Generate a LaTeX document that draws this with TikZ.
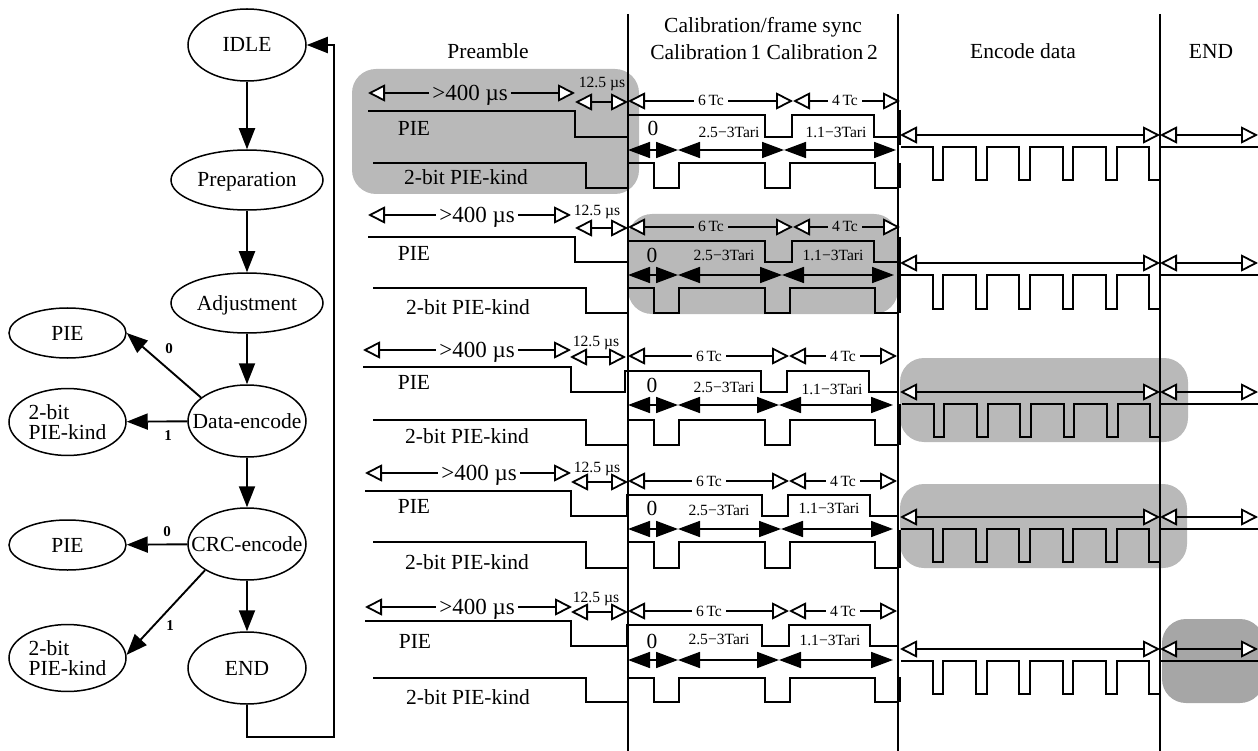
\documentclass[tikz,border=0pt]{standalone}
\usepackage{fontspec}
\setmainfont{Liberation Serif}
\usetikzlibrary{arrows.meta,shapes.geometric}
\tikzset{
  wave/.style={draw=black,line width=1.9pt,line join=miter},
  vline/.style={draw=black,line width=2pt},
  shade/.style={fill=boxgray,rounded corners=24pt},
  state/.style={draw=black,line width=1.5pt,ellipse,inner sep=0pt,align=center,font=\big},
  capstate/.style={state,text height=14pt,text depth=0pt},
  bigstate/.style={capstate,minimum width=118pt,minimum height=72pt},
  midstate/.style={capstate,minimum width=152pt,minimum height=60pt},
  leafstate/.style={state,minimum width=117pt,minimum height=50pt},
  piestate/.style={capstate,minimum width=117pt,minimum height=50pt},
  flow/.style={draw=black,line width=1.9pt,-{Triangle[length=21pt,width=16pt]}},
  lab/.style={font=\big,inner sep=0pt,text height=14pt,text depth=0pt},
  slab/.style={font=\small,inner sep=0pt,text height=10pt,text depth=0pt},
  slabgap/.style={slab,inner xsep=4pt},
  wlab/.style={font=\wide,inner sep=0pt,inner xsep=3pt,text height=15pt,text depth=0pt},
  blab/.style={font=\bfseries\fontsize{15}{17}\selectfont,inner sep=0pt},
  ohead/.tip={Triangle[open,fill=white,length=17pt,width=17pt,line width=1.8pt]},
  fhead/.tip={Triangle[length=22pt,width=16pt]},
  oline/.style={draw=black,line width=1.7pt},
  olinel/.style={oline,{ohead}-},
  oliner/.style={oline,-{ohead}},
  olineb/.style={oline,{ohead}-{ohead}},
  fline/.style={draw=black,line width=1.7pt,{fhead}-{fhead}},
}
\definecolor{boxgray}{HTML}{B9B9B9}
\definecolor{boxdark}{HTML}{A6A6A6}
\renewcommand\big{\fontsize{21.5}{19}\selectfont}
\renewcommand\small{\fontsize{15.6}{18}\selectfont}
\newcommand\wide{\fontsize{23}{25}\selectfont}
\newcommand\kindtext{\begin{tabular}{@{}l@{}}\rule{0pt}{21pt}2-bit\\PIE-kind\end{tabular}}
% name, x left, x right, y, x text, text font style, text
\newcommand\spanarrow[7]{%
  \coordinate (#1l) at (#2,#4);
  \coordinate (#1r) at (#3,#4);
  \node[#6] (#1t) at (#5,#4) {#7};
  \draw[olinel] (#1l) -- (#1t);
  \draw[oliner] (#1t) -- (#1r);
}
% name, x left, x right, y, style
\newcommand\plainarrow[5]{%
  \coordinate (#1l) at (#2,#4);
  \coordinate (#1r) at (#3,#4);
  \draw[#5] (#1l) -- (#1r);
}
% x shift, y top, y bottom
\newcommand\encwave[3]{%
  \draw[wave,xshift=#1pt] (901,#2) -| (933,#3) -| (943,#2) -| (976,#3) -| (987,#2)
     -| (1019,#3) -| (1030,#2) -| (1063,#3) -| (1073,#2) -| (1106,#3) -| (1117,#2)
     -| (1149,#3) -- (1159,#3);
  \draw[wave] (1160,#2) -- (1258,#2);
}
\begin{document}
\begin{tikzpicture}[x=1pt,y=-1pt]
\useasboundingbox (0,0) rectangle (1258,751);
\clip (0,0) rectangle (1258,751);
% shaded regions
\fill[shade] (352,69) rectangle (639,194);
\fill[shade] (628,214) rectangle (898,314);
\fill[shade] (900,358) rectangle (1188,442);
\fill[shade] (900,484) rectangle (1187,568);
\fill[shade,fill=boxdark] (1162,619) rectangle (1264,703);
% section lines
\draw[vline] (628,14) -- (628,751);
\draw[vline] (898,14) -- (898,751);
\draw[vline] (1160,14) -- (1160,751);
% headings
\node[lab] (hpre) at (488,52) {Preamble};
\node[lab] (hcal) at (763,26) {Calibration/frame sync};
\node[lab] (hcal2) at (764,53) {Calibration\,1 Calibration\,2};
\node[lab] (henc) at (1023,52) {Encode data};
\node[lab] (hend) at (1211,52) {END};
% state machine
\node[bigstate] (idle) at (247,45) {IDLE};
\node[midstate] (prep) at (247,180) {Preparation};
\node[midstate] (adj) at (247,303) {Adjustment};
\node[bigstate] (data) at (247,421) {\makebox[0pt]{Data-encode}};
\node[bigstate] (crc) at (247,544) {\makebox[0pt]{CRC-encode}};
\node[bigstate] (end) at (247,668) {END};
\node[piestate] (pie1) at (67.5,333) {PIE};
\node[leafstate] (kind1) at (67.5,422) {\kindtext};
\node[piestate] (pie2) at (67.5,545) {PIE};
\node[leafstate] (kind2) at (67.5,658) {\kindtext};
\draw[flow] (idle) -- (prep);
\draw[flow] (prep) -- (adj);
\draw[flow] (adj) -- (data);
\draw[flow] (data) -- (crc);
\draw[flow] (crc) -- (end);
\draw[flow] (data.153) -- (pie1.east);
\draw[flow] (data) -- (kind1);
\draw[flow] (crc) -- (pie2);
\draw[flow] (crc.212) -- (kind2.3);
\coordinate (loopa) at (247,737);
\coordinate (loopb) at (334,737);
\coordinate (loopc) at (334,45);
\draw[flow] (end) -- (loopa) -- (loopb) -- (loopc) -- (idle);
\node[blab] (b0a) at (169,349) {0};
\node[blab] (b1a) at (168,436) {1};
\node[blab] (b0b) at (167,532) {0};
\node[blab] (b1b) at (170,626) {1};
% ---------- row 1
\spanarrow{ra1}{368}{575}{93}{470}{wlab}{>400 µs}
\node[slab] (rb1) at (602,83) {12.5 µs};
\plainarrow{rc1}{575}{628}{102}{olineb}
\spanarrow{rd1}{628}{793}{101}{711}{slabgap}{6\,Tc}
\spanarrow{re1}{793}{900}{101}{845}{slabgap}{4\,Tc}
\draw[wave] (368,111) -| (575,137) -| (628,115) -| (765,137) -| (792,115) -| (874,137) -- (898,137);
\node[lab] (rf1) at (414,129) {PIE};
\node[lab] (rg1) at (653,129) {0};
\node[slab] (rh1) at (729,133) {2.5−3Tari};
\node[slab] (ri1) at (836,133) {1.1−3Tari};
\plainarrow{rj1}{628}{678}{150}{fline}
\plainarrow{rk1}{678}{784}{150}{fline}
\plainarrow{rl1}{784}{896}{150}{fline}
\draw[wave] (373,163) -| (586,188) -| (628,163) -| (654,188) -| (679,163) -| (765,188) -| (790,163) -| (875,188) -- (898,188);
\node[lab] (rm1) at (466,178) {2-bit PIE-kind};
\draw[wave] (900,110) -- (900,145);
\draw[wave] (900,163) -- (900,188);
\plainarrow{rn1}{900}{1160}{135}{olineb}
\plainarrow{ro1}{1160}{1258}{135}{olineb}
\encwave{0}{147}{180}
% ---------- row 2
\spanarrow{ra2}{368}{571}{215}{477}{wlab}{>400 µs}
\node[slab] (rb2) at (597,211) {12.5 µs};
\plainarrow{rc2}{575}{628}{228}{olineb}
\spanarrow{rd2}{628}{793}{227}{711}{slabgap}{6\,Tc}
\spanarrow{re2}{793}{900}{227}{845}{slabgap}{4\,Tc}
\draw[wave] (368,237) -| (575,262) -| (628,241) -| (765,262) -| (792,241) -| (874,262) -- (898,262);
\node[lab] (rf2) at (414,254) {PIE};
\node[lab] (rg2) at (652,256) {0};
\node[slab] (rh2) at (724,256) {2.5−3Tari};
\node[slab] (ri2) at (833,256) {1.1−3Tari};
\plainarrow{rj2}{628}{678}{275}{fline}
\plainarrow{rk2}{678}{782}{275}{fline}
\plainarrow{rl2}{782}{894}{275}{fline}
\draw[wave] (373,288) -| (586,313) -| (628,288) -| (654,313) -| (679,288) -| (765,313) -| (790,288) -| (875,313) -- (898,313);
\node[lab] (rm2) at (468,307) {2-bit PIE-kind};
\draw[wave] (900,237) -- (900,313);
\plainarrow{rn2}{900}{1160}{263}{olineb}
\plainarrow{ro2}{1160}{1258}{263}{olineb}
\encwave{0}{275}{309}
% ---------- row 3
\spanarrow{ra3}{363}{571}{350}{477}{wlab}{>400 µs}
\node[slab] (rb3) at (596,341) {12.5 µs};
\plainarrow{rc3}{570}{626}{357}{olineb}
\spanarrow{rd3}{628}{789}{356}{709}{slabgap}{6\,Tc}
\spanarrow{re3}{789}{897}{356}{843}{slabgap}{4\,Tc}
\draw[wave] (363,367) -| (571,392) -| (625,371) -| (761,392) -| (787,371) -| (869,392) -- (898,392);
\node[lab] (rf3) at (414,382) {PIE};
\node[lab] (rg3) at (652,385) {0};
\node[slab] (rh3) at (724,387) {2.5−3Tari};
\node[slab] (ri3) at (832,389) {1.1−3Tari};
\plainarrow{rj3}{628}{678}{405}{fline}
\plainarrow{rk3}{678}{779}{405}{fline}
\plainarrow{rl3}{779}{893}{405}{fline}
\draw[wave] (373,420) -| (586,445) -| (628,420) -| (654,445) -| (679,420) -| (765,445) -| (790,420) -| (875,445) -- (898,445);
\node[lab] (rm3) at (467,436) {2-bit PIE-kind};
\draw[wave] (900,404) -- (900,445);
\plainarrow{rn3}{900}{1160}{392}{olineb}
\plainarrow{ro3}{1160}{1258}{392}{olineb}
\encwave{1}{404}{437}
% ---------- row 4
\spanarrow{ra4}{365}{571}{473}{479}{wlab}{>400 µs}
\node[slab] (rb4) at (597,467) {12.5 µs};
\plainarrow{rc4}{571}{628}{482}{olineb}
\spanarrow{rd4}{628}{789}{481}{709}{slabgap}{6\,Tc}
\spanarrow{re4}{789}{897}{481}{843}{slabgap}{4\,Tc}
\draw[wave] (365,491) -| (571,516) -| (627,495) -| (762,516) -| (788,495) -| (870,516) -- (898,516);
\node[lab] (rf4) at (414,506) {PIE};
\node[lab] (rg4) at (652,508) {0};
\node[slab] (rh4) at (719,510) {2.5−3Tari};
\node[slab] (ri4) at (829,508) {1.1−3Tari};
\plainarrow{rj4}{628}{678}{529}{fline}
\plainarrow{rk4}{678}{781}{529}{fline}
\plainarrow{rl4}{781}{893}{529}{fline}
\draw[wave] (373,542) -| (586,568) -| (628,542) -| (654,568) -| (679,542) -| (765,568) -| (790,542) -| (875,568) -- (898,568);
\node[lab] (rm4) at (467,562) {2-bit PIE-kind};
\draw[wave] (900,530) -- (900,568);
\plainarrow{rn4}{900}{1160}{517}{olineb}
\plainarrow{ro4}{1160}{1258}{517}{olineb}
\encwave{0}{529}{562}
% ---------- row 5
\spanarrow{ra5}{365}{572}{607}{477}{wlab}{>400 µs}
\node[slab] (rb5) at (596,597) {12.5 µs};
\plainarrow{rc5}{571}{628}{612}{olineb}
\spanarrow{rd5}{628}{789}{611}{709}{slabgap}{6\,Tc}
\spanarrow{re5}{789}{897}{611}{843}{slabgap}{4\,Tc}
\draw[wave] (365,621) -| (571,646) -| (627,625) -| (762,646) -| (789,625) -| (870,646) -- (898,646);
\node[lab] (rf5) at (415,641) {PIE};
\node[lab] (rg5) at (652,641) {0};
\node[slab] (rh5) at (719,639) {2.5−3Tari};
\node[slab] (ri5) at (830,640) {1.1−3Tari};
\plainarrow{rj5}{628}{678}{660}{fline}
\plainarrow{rk5}{678}{779}{660}{fline}
\plainarrow{rl5}{779}{893}{660}{fline}
\draw[wave] (373,678) -| (586,702) -| (628,678) -| (654,702) -| (679,678) -| (765,702) -| (790,678) -| (875,702) -- (898,702);
\node[lab] (rm5) at (468,697) {2-bit PIE-kind};
\draw[wave] (900,677) -- (900,702);
\plainarrow{rn5}{900}{1160}{649}{olineb}
\plainarrow{ro5}{1160}{1258}{649}{olineb}
\encwave{0}{661}{694}
\end{tikzpicture}
\end{document}
